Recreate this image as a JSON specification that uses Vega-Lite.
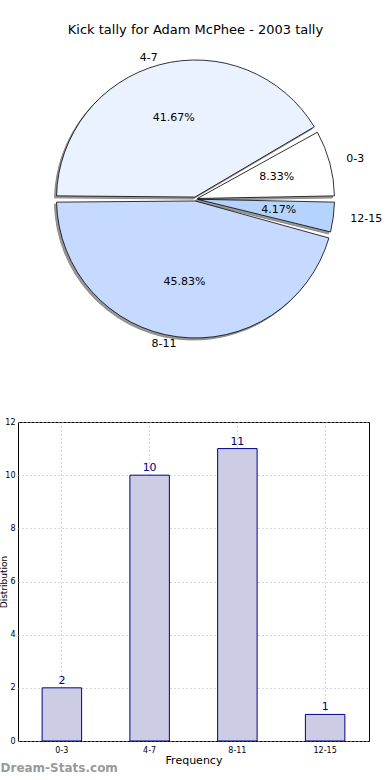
{
  "$schema": "https://vega.github.io/schema/vega-lite/v6.json",
  "background": "white",
  "padding": {"left": -2, "top": 24, "right": 0, "bottom": 0},
  "bounds": "flush",
  "spacing": 73,
  "title": {"text": "Dream-Stats.com", "orient": "bottom", "anchor": "start", "color": "#9a9a9a", "fontSize": 12, "fontWeight": "bold", "font": "DejaVu Sans", "offset": -3, "dx": 2},
  "config": {"font": "DejaVu Sans", "view": {"stroke": null}},
  "data": {"values": [
    {"range": "0-3", "low": 0, "count": 2, "pct": "8.33%"},
    {"range": "4-7", "low": 4, "count": 10, "pct": "41.67%"},
    {"range": "8-11", "low": 8, "count": 11, "pct": "45.83%"},
    {"range": "12-15", "low": 12, "count": 1, "pct": "4.17%"}
  ]},
  "vconcat": [
    {
      "width": 355,
      "height": 300,
      "title": {"text": "Kick tally for Adam McPhee - 2003 tally", "fontSize": 13, "fontWeight": "normal", "color": "black", "anchor": "middle", "offset": 5},
      "layer": [
        {
          "mark": {"type": "arc", "fill": "#999999", "stroke": "#8a8a8a", "strokeWidth": 1, "xOffset": -2, "yOffset": 2, "outerRadius": 139, "innerRadius": 2, "padAngle": 0.045},
          "encoding": {
            "theta": {"field": "count", "type": "quantitative", "stack": true, "scale": {"range": [1.5708, 7.854]}},
            "order": {"field": "low", "sort": "descending"}
          }
        },
        {
          "mark": {"type": "arc", "stroke": "black", "strokeWidth": 0.8, "outerRadius": 139, "innerRadius": 2, "padAngle": 0.045},
          "encoding": {
            "theta": {"field": "count", "type": "quantitative", "stack": true, "scale": {"range": [1.5708, 7.854]}},
            "order": {"field": "low", "sort": "descending"},
            "color": {"field": "range", "type": "nominal", "legend": null, "scale": {"domain": ["0-3", "4-7", "8-11", "12-15"], "range": ["#ffffff", "#ebf2ff", "#c6d9ff", "#b4d4ff"]}}
          }
        },
        {
          "mark": {"type": "text", "radius": 84, "fontSize": 11, "color": "black"},
          "encoding": {
            "theta": {"field": "count", "type": "quantitative", "stack": true, "scale": {"range": [1.5708, 7.854]}},
            "order": {"field": "low", "sort": "descending"},
            "text": {"field": "pct"}
          }
        },
        {
          "mark": {"type": "text", "radius": 146, "fontSize": 11, "color": "black", "align": "right"},
          "encoding": {
            "theta": {"field": "count", "type": "quantitative", "stack": true, "scale": {"range": [1.5708, 7.854]}},
            "order": {"field": "low", "sort": "descending"},
            "text": {"condition": {"test": "datum.low == 4 || datum.low == 8", "field": "range"}, "value": ""}
          }
        },
        {
          "mark": {"type": "text", "radius": 156, "fontSize": 11, "color": "black", "align": "left"},
          "encoding": {
            "theta": {"field": "count", "type": "quantitative", "stack": true, "scale": {"range": [1.5708, 7.854]}},
            "order": {"field": "low", "sort": "descending"},
            "text": {"condition": {"test": "datum.low == 0 || datum.low == 12", "field": "range"}, "value": ""}
          }
        }
      ]
    },
    {
      "width": 351,
      "height": 319,
      "view": {"stroke": "black", "strokeWidth": 1},
      "encoding": {
        "x": {"field": "range", "type": "nominal", "sort": ["0-3", "4-7", "8-11", "12-15"],
          "scale": {"paddingInner": 0.55, "paddingOuter": 0.275},
          "axis": {"title": "Frequency", "labelAngle": 0, "grid": true, "gridDash": [1, 3], "gridColor": "#b0b0b0", "bandPosition": 0.5, "ticks": false, "domain": false, "labelFontSize": 8, "labelColor": "black", "labelPadding": 5, "titleFontSize": 11, "titleFontWeight": "normal", "titleColor": "black", "titlePadding": 0}},
        "y": {"field": "count", "type": "quantitative",
          "scale": {"domain": [0, 12], "nice": false},
          "axis": {"title": "Distribution", "values": [0, 2, 4, 6, 8, 10, 12], "grid": true, "gridDash": [1, 3], "gridColor": "#b0b0b0", "ticks": false, "domain": false, "labelFontSize": 8, "labelColor": "black", "labelPadding": 3, "titleFontSize": 9, "titleFontWeight": "normal", "titleColor": "black", "titleX": -10, "titleBaseline": "bottom"}}
      },
      "layer": [
        {"mark": {"type": "bar", "fill": "#ccccE5", "stroke": "#00008b", "strokeWidth": 1}},
        {"mark": {"type": "text", "dy": -7, "fontSize": 11, "color": "#000080"}, "encoding": {"text": {"field": "count"}}}
      ]
    }
  ]
}
